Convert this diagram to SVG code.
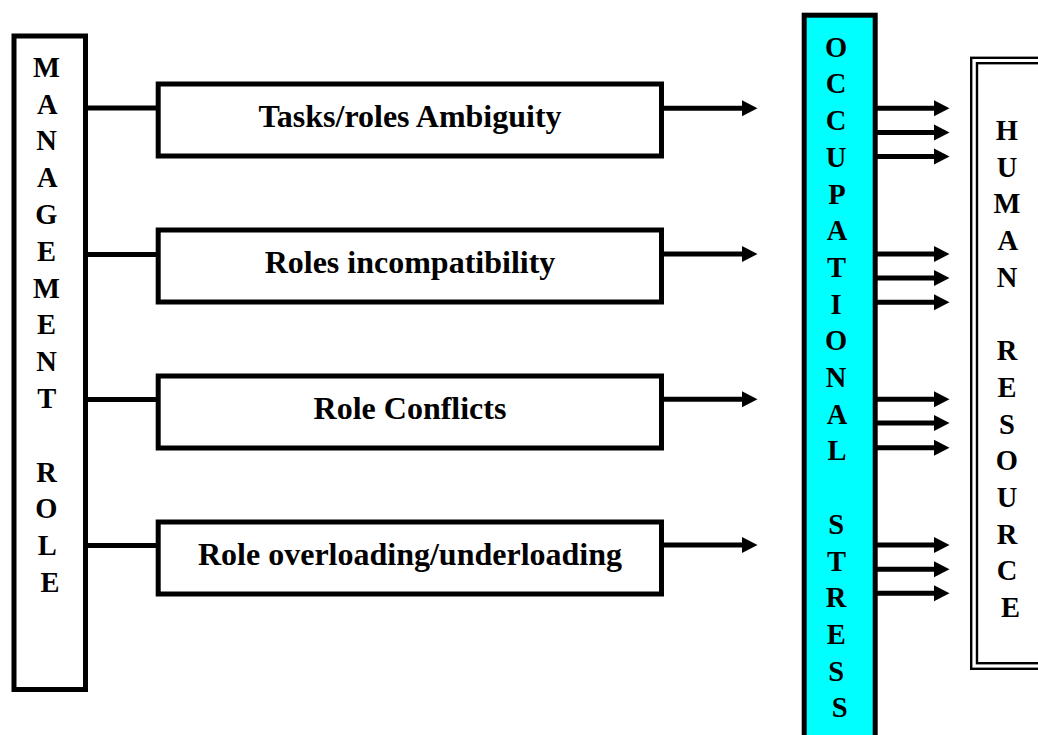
<svg xmlns="http://www.w3.org/2000/svg" width="1038" height="735" viewBox="0 0 1038 735">
  <defs>
    <style>
      .box { fill: #ffffff; stroke: #000000; stroke-width: 5; }
      .occ { fill: #00ffff; stroke: #000000; stroke-width: 5; }
      .dbl { fill: none; stroke: #000000; stroke-width: 2.4; }
      .conn { stroke: #000000; stroke-width: 5; fill: none; }
      .arr { stroke: #000000; stroke-width: 5; fill: none; marker-end: url(#head); }
      .lbl { font-family: "Liberation Serif", "Times New Roman", serif; font-weight: bold; font-size: 32px; fill: #000000; text-anchor: middle; }
      .vert { font-family: "Liberation Serif", "Times New Roman", serif; font-weight: bold; font-size: 28.5px; fill: #000000; text-anchor: middle; }
    </style>
    <marker id="head" markerUnits="userSpaceOnUse" markerWidth="16" markerHeight="18" viewBox="0 -9 16 18" refX="0" refY="0" orient="auto">
      <path d="M0,-8 L15.5,0 L0,8 Z" fill="#000000"/>
    </marker>
  </defs>

  <g id="management-role">
    <rect class="box" x="14" y="36" width="71.5" height="653.5"/>
    <text class="vert">
      <tspan x="50" y="76.7">M</tspan>
      <tspan x="50" y="113.5">A</tspan>
      <tspan x="50" y="150.3">N</tspan>
      <tspan x="50" y="187.1">A</tspan>
      <tspan x="50" y="223.9">G</tspan>
      <tspan x="50" y="260.7">E</tspan>
      <tspan x="50" y="297.5">M</tspan>
      <tspan x="50" y="334.3">E</tspan>
      <tspan x="50" y="371.1">N</tspan>
      <tspan x="50" y="407.9">T</tspan>
      <tspan x="50" y="481.5">R</tspan>
      <tspan x="50" y="518.3">O</tspan>
      <tspan x="50" y="555.1">L</tspan>
      <tspan x="50" y="591.9">E</tspan>
    </text>
  </g>

  <g id="box-ambiguity">
    <rect class="box" x="158.2" y="84" width="503.3" height="72"/>
    <text class="lbl" x="410" y="126.7">Tasks/roles Ambiguity</text>
  </g>
  <g id="box-incompatibility">
    <rect class="box" x="158.2" y="230" width="503.3" height="72"/>
    <text class="lbl" x="410" y="272.7">Roles incompatibility</text>
  </g>
  <g id="box-conflicts">
    <rect class="box" x="158.2" y="376" width="503.3" height="72"/>
    <text class="lbl" x="410" y="418.7">Role Conflicts</text>
  </g>
  <g id="box-overloading">
    <rect class="box" x="158.2" y="522" width="503.3" height="72"/>
    <text class="lbl" x="410" y="564.7">Role overloading/underloading</text>
  </g>

  <g id="occupational-stress">
    <rect class="occ" x="804.2" y="15.2" width="71" height="760"/>
    <text class="vert">
      <tspan x="839.7" y="56.7">O</tspan>
      <tspan x="839.7" y="93.4">C</tspan>
      <tspan x="839.7" y="130.1">C</tspan>
      <tspan x="839.7" y="166.8">U</tspan>
      <tspan x="839.7" y="203.5">P</tspan>
      <tspan x="839.7" y="240.2">A</tspan>
      <tspan x="839.7" y="276.9">T</tspan>
      <tspan x="839.7" y="313.6">I</tspan>
      <tspan x="839.7" y="350.3">O</tspan>
      <tspan x="839.7" y="387.0">N</tspan>
      <tspan x="839.7" y="423.7">A</tspan>
      <tspan x="839.7" y="460.4">L</tspan>
      <tspan x="839.7" y="533.8">S</tspan>
      <tspan x="839.7" y="570.5">T</tspan>
      <tspan x="839.7" y="607.2">R</tspan>
      <tspan x="839.7" y="643.9">E</tspan>
      <tspan x="839.7" y="680.6">S</tspan>
      <tspan x="839.7" y="717.3">S</tspan>
    </text>
  </g>

  <g id="human-resource">
    <rect class="dbl" x="971.2" y="57.8" width="100" height="611"/>
    <rect class="dbl" x="977" y="63.2" width="100" height="600"/>
    <text class="vert">
      <tspan x="1010.5" y="140">H</tspan>
      <tspan x="1010.5" y="176.7">U</tspan>
      <tspan x="1010.5" y="213.4">M</tspan>
      <tspan x="1010.5" y="250.1">A</tspan>
      <tspan x="1010.5" y="286.8">N</tspan>
      <tspan x="1010.5" y="360.2">R</tspan>
      <tspan x="1010.5" y="396.9">E</tspan>
      <tspan x="1010.5" y="433.6">S</tspan>
      <tspan x="1010.5" y="470.3">O</tspan>
      <tspan x="1010.5" y="507.0">U</tspan>
      <tspan x="1010.5" y="543.7">R</tspan>
      <tspan x="1010.5" y="580.4">C</tspan>
      <tspan x="1010.5" y="617.1">E</tspan>
    </text>
  </g>

  <g id="connectors">
    <line class="conn" x1="85.5" y1="108" x2="158.2" y2="108"/>
    <line class="conn" x1="85.5" y1="254.5" x2="158.2" y2="254.5"/>
    <line class="conn" x1="85.5" y1="399.5" x2="158.2" y2="399.5"/>
    <line class="conn" x1="85.5" y1="545.5" x2="158.2" y2="545.5"/>

    <line class="arr" x1="661.5" y1="108.3" x2="742" y2="108.3"/>
    <line class="arr" x1="661.5" y1="254" x2="742" y2="254"/>
    <line class="arr" x1="661.5" y1="399.3" x2="742" y2="399.3"/>
    <line class="arr" x1="661.5" y1="545" x2="742" y2="545"/>

    <line class="arr" x1="877" y1="108.3" x2="934" y2="108.3"/>
    <line class="arr" x1="877" y1="132.5" x2="934" y2="132.5"/>
    <line class="arr" x1="877" y1="156.5" x2="934" y2="156.5"/>
    <line class="arr" x1="877" y1="254" x2="934" y2="254"/>
    <line class="arr" x1="877" y1="278" x2="934" y2="278"/>
    <line class="arr" x1="877" y1="302.3" x2="934" y2="302.3"/>
    <line class="arr" x1="877" y1="399.3" x2="934" y2="399.3"/>
    <line class="arr" x1="877" y1="423" x2="934" y2="423"/>
    <line class="arr" x1="877" y1="447.7" x2="934" y2="447.7"/>
    <line class="arr" x1="877" y1="545" x2="934" y2="545"/>
    <line class="arr" x1="877" y1="569.3" x2="934" y2="569.3"/>
    <line class="arr" x1="877" y1="593.3" x2="934" y2="593.3"/>
  </g>
</svg>
